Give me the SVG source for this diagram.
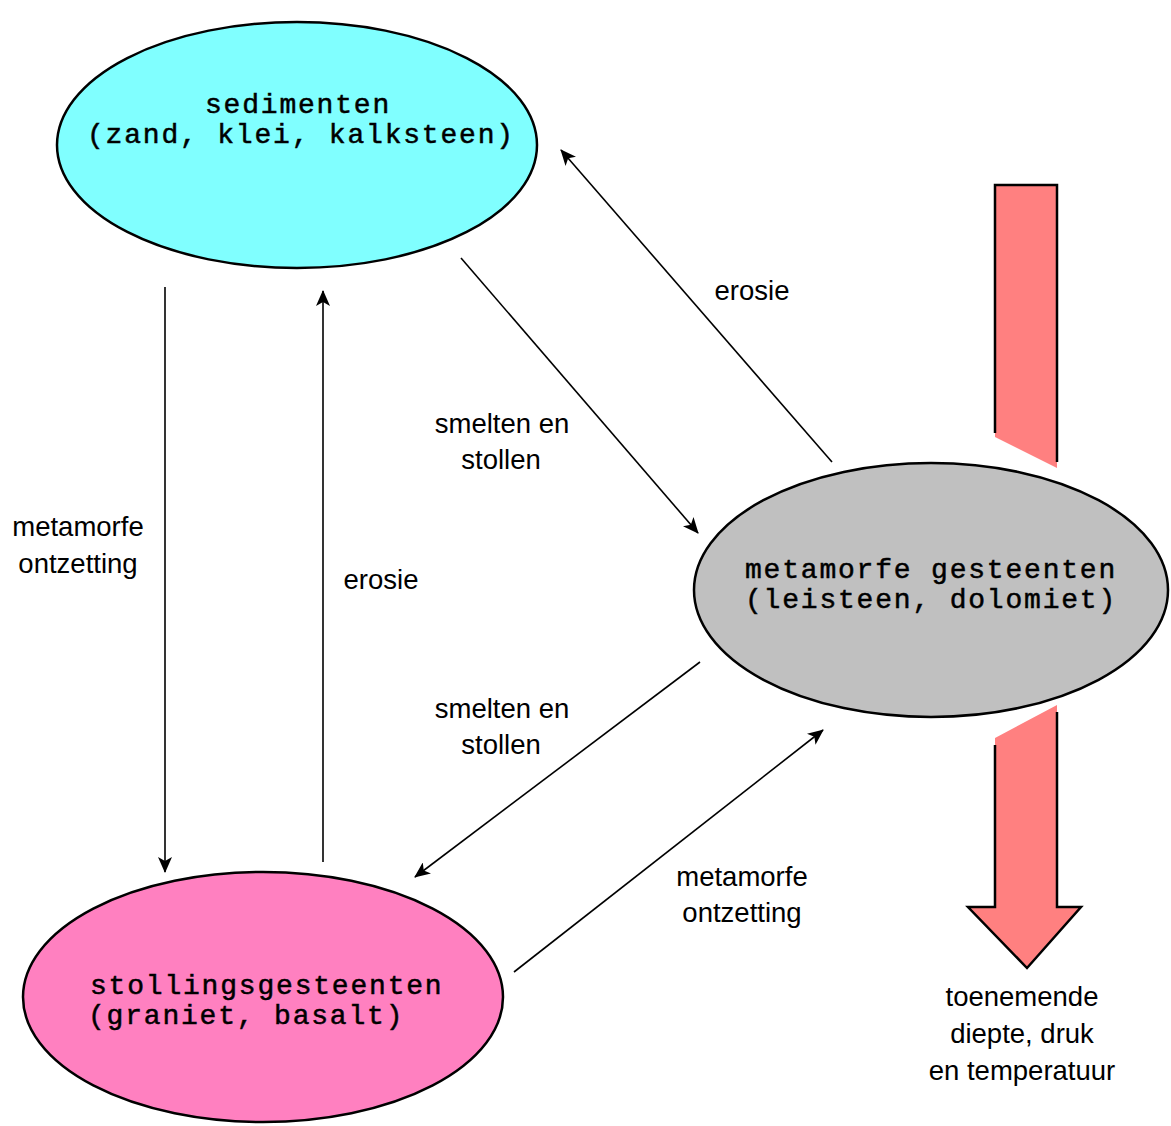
<svg xmlns="http://www.w3.org/2000/svg" width="1171" height="1126" viewBox="0 0 1171 1126">
<style>
.node{stroke:#000;stroke-width:2.5}
.mono{font-family:"Liberation Mono","DejaVu Sans Mono",monospace;font-size:28px;letter-spacing:1.8px;fill:#000;stroke:#000;stroke-width:0.5}
.lbl{font-family:"Liberation Sans",Arial,sans-serif;font-size:27.5px;fill:#000;text-anchor:middle}
.conn{stroke:#000;stroke-width:1.6;fill:none;marker-end:url(#ah)}
.shaft{fill:#FF8080}
.outl{fill:none;stroke:#000;stroke-width:2.5}
</style>
<defs>
<marker id="ah" viewBox="0 0 16 14" refX="15" refY="7" markerWidth="16" markerHeight="14" markerUnits="userSpaceOnUse" orient="auto">
<path d="M0,0 L16,7 L0,14 L4,7 z" fill="#000"/>
</marker>
</defs>
<rect width="1171" height="1126" fill="#fff"/>
<g id="depth-arrow">
<polygon class="shaft" points="995,185 1057,185 1057,468 995,437"/>
<path class="outl" d="M995,433 V185 H1057 V462"/>
<polygon class="shaft" points="995,738 1057,705 1057,907 1081,907 1027,968 968,907 995,907"/>
<path class="outl" d="M1057,712 V907 H1081 L1027,968 L968,907 H995 V745"/>
</g>
<g id="sedimenten">
<ellipse class="node" cx="297" cy="145" rx="240" ry="123" fill="#80FFFF"/>
<text class="mono" x="205" y="113">sedimenten</text>
<text class="mono" x="87" y="143">(zand, klei, kalksteen)</text>
</g>
<g id="metamorfe">
<ellipse class="node" cx="931" cy="590" rx="237" ry="127" fill="#C0C0C0"/>
<text class="mono" x="745" y="578">metamorfe gesteenten</text>
<text class="mono" x="745" y="608">(leisteen, dolomiet)</text>
</g>
<g id="stollingsgesteenten">
<ellipse class="node" cx="263" cy="997" rx="240" ry="125" fill="#FF80C0"/>
<text class="mono" x="90" y="994">stollingsgesteenten</text>
<text class="mono" x="88" y="1024">(graniet, basalt)</text>
</g>
<g id="connectors">
<line class="conn" x1="165" y1="287" x2="165" y2="872"/>
<line class="conn" x1="323" y1="862" x2="323" y2="291"/>
<line class="conn" x1="461" y1="258" x2="698" y2="533"/>
<line class="conn" x1="832" y1="462" x2="561" y2="150"/>
<line class="conn" x1="700" y1="662" x2="415" y2="877"/>
<line class="conn" x1="514" y1="972" x2="823" y2="730"/>
</g>
<g id="labels">
<text class="lbl" x="752" y="300">erosie</text>
<text class="lbl" x="502" y="433">smelten en</text>
<text class="lbl" x="501" y="469">stollen</text>
<text class="lbl" x="78" y="536">metamorfe</text>
<text class="lbl" x="78" y="573">ontzetting</text>
<text class="lbl" x="381" y="589">erosie</text>
<text class="lbl" x="502" y="718">smelten en</text>
<text class="lbl" x="501" y="754">stollen</text>
<text class="lbl" x="742" y="886">metamorfe</text>
<text class="lbl" x="742" y="922">ontzetting</text>
<text class="lbl" x="1022" y="1006">toenemende</text>
<text class="lbl" x="1022" y="1043">diepte, druk</text>
<text class="lbl" x="1022" y="1080">en temperatuur</text>
</g>
</svg>
